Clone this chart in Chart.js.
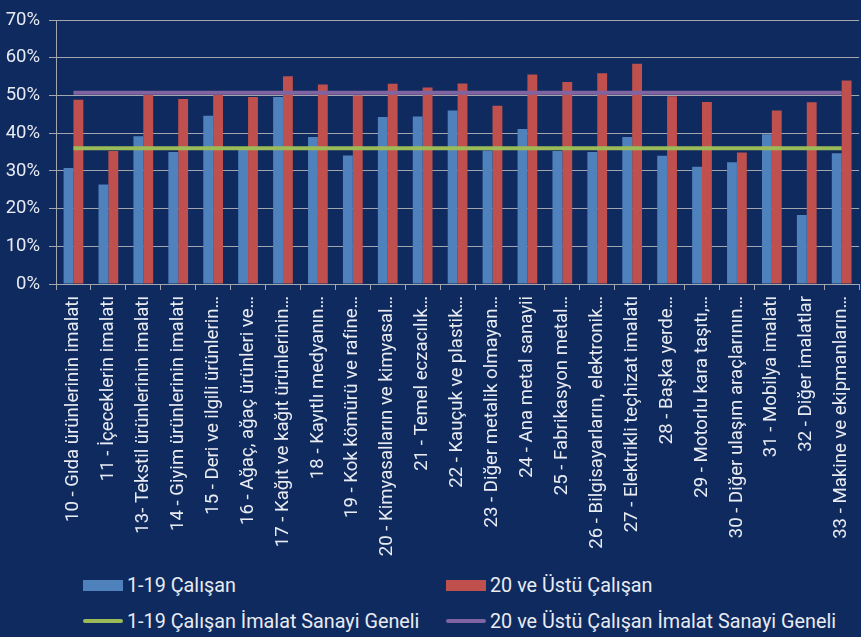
<!DOCTYPE html>
<html lang="tr">
<head>
<meta charset="utf-8">
<title>İmalat Sanayi</title>
<script src="https://cdn.jsdelivr.net/npm/chart.js@4.4.1/dist/chart.umd.min.js"></script>
<style>
  html, body {
    margin: 0;
    padding: 0;
    width: 861px;
    height: 637px;
    overflow: hidden;
    background: #0f2a5f;
    font-family: Roboto, "Noto Sans", sans-serif;
  }
  #wrap {
    position: absolute;
    left: 0;
    top: 0;
    width: 870px;
    height: 565px;
  }
  #legend {
    position: absolute;
    left: 83px;
    top: 567px;
    display: grid;
    grid-template-columns: 363px auto;
    grid-auto-rows: 36px;
    color: #e8ebf2;
    font-size: 19.8px;
  }
  .item {
    display: flex;
    align-items: center;
    white-space: nowrap;
  }
  .swatch {
    width: 40px;
    margin-right: 4px;
  }
</style>
</head>
<body>
<div id="wrap"><canvas id="myChart"></canvas></div>
<div id="legend"></div>

<script>
// sector labels (as cut off in the picture)
const categories = [
  '10 - Gıda ürünlerinin imalatı',
  '11 - İçeceklerin imalatı',
  '13- Tekstil ürünlerinin imalatı',
  '14 - Giyim ürünlerinin imalatı',
  '15 - Deri ve ilgili ürünlerin…',
  '16 - Ağaç, ağaç ürünleri ve…',
  '17 - Kağıt ve kağıt ürünlerinin…',
  '18 - Kayıtlı medyanın…',
  '19 - Kok kömürü ve rafine…',
  '20 - Kimyasalların ve kimyasal…',
  '21 - Temel eczacılık…',
  '22 - Kauçuk ve plastik…',
  '23 - Diğer metalik olmayan…',
  '24 - Ana metal sanayii',
  '25 - Fabrikasyon metal…',
  '26 - Bilgisayarların, elektronik…',
  '27 - Elektrikli teçhizat imalatı',
  '28 - Başka yerde…',
  '29 - Motorlu kara taşıtı,…',
  '30 - Diğer ulaşım araçlarının…',
  '31 - Mobilya imalatı',
  '32 - Diğer imalatlar',
  '33 - Makine ve ekipmanların…'
];

// percentages per sector
const small = [30.8, 26.4, 39.2, 35.0, 44.6, 35.8, 49.6, 39.0, 34.1, 44.3, 44.4, 46.0,
  35.4, 41.1, 35.3, 35.0, 39.0, 34.0, 31.1, 32.3, 39.7, 18.3, 34.7];
const large = [48.9, 35.3, 50.2, 49.1, 50.2, 49.6, 55.1, 52.9, 50.0, 53.1, 52.1, 53.2,
  47.3, 55.6, 53.6, 55.9, 58.4, 49.8, 48.3, 34.9, 46.0, 48.2, 54.0];

// manufacturing industry overall
const smallAvg = 36.0;
const largeAvg = 50.7;

const yTicks = [0, 10, 20, 30, 40, 50, 60, 70];

const names = [
  '1-19 Çalışan',
  '20 ve Üstü Çalışan',
  '1-19 Çalışan İmalat Sanayi Geneli',
  '20 ve Üstü Çalışan İmalat Sanayi Geneli'
];

const gridColor = '#a3a6ad';
const textColor = '#e8ebf2';
const last = categories.length - 1;

const flatLine = (v) => [{ x: categories[0], y: v }, { x: categories[last], y: v }];

const chart = new Chart(document.getElementById('myChart'), {
  type: 'bar',
  data: {
    labels: categories,
    datasets: [
      { label: names[0], data: small, backgroundColor: '#4f81bd', order: 2 },
      { label: names[1], data: large, backgroundColor: '#c0504d', order: 2 },
      {
        type: 'line', label: names[2], data: flatLine(smallAvg),
        borderColor: '#9bbb59', borderWidth: 4, pointRadius: 0, order: 1
      },
      {
        type: 'line', label: names[3], data: flatLine(largeAvg),
        borderColor: '#8064a2', borderWidth: 4, pointRadius: 0, order: 1
      }
    ]
  },
  options: {
    responsive: true,
    maintainAspectRatio: false,
    animation: false,
    layout: { padding: { top: 20, left: 0, right: 0, bottom: 0 } },
    datasets: {
      bar: { categoryPercentage: 0.565, barPercentage: 1 }
    },
    plugins: {
      legend: { display: false },
      tooltip: { enabled: false }
    },
    scales: {
      x: {
        afterFit: (s) => { s.height = 281; },
        grid: { drawOnChartArea: false, drawTicks: true, tickLength: 6, color: gridColor },
        border: { display: true, color: gridColor },
        ticks: {
          color: textColor,
          font: { family: 'Roboto', size: 18.6 },
          minRotation: 90,
          maxRotation: 90,
          autoSkip: false,
          padding: 6
        }
      },
      y: {
        min: 0,
        max: 70,
        afterFit: (s) => { s.width = 56; },
        afterBuildTicks: (s) => { s.ticks = yTicks.map(v => ({ value: v })); },
        grid: { color: gridColor, tickLength: 7 },
        border: { display: true, color: gridColor },
        ticks: {
          color: textColor,
          font: { family: 'Roboto', size: 18.5 },
          padding: 9,
          callback: (v) => v + '%'
        }
      }
    }
  }
});

// legend in a 2x2 grid, built from the chart's datasets
const legendOrder = [0, 1, 2, 3];
const legendEl = document.getElementById('legend');
legendOrder.forEach((i) => {
  const ds = chart.data.datasets[i];
  const item = document.createElement('div');
  item.className = 'item';
  const sw = document.createElement('span');
  sw.className = 'swatch';
  if (ds.type === 'line') {
    sw.style.height = '4px';
    sw.style.borderRadius = '2px';
    sw.style.background = ds.borderColor;
  } else {
    sw.style.height = '11px';
    sw.style.background = ds.backgroundColor;
  }
  const txt = document.createElement('span');
  txt.textContent = ds.label;
  item.appendChild(sw);
  item.appendChild(txt);
  legendEl.appendChild(item);
});
</script>
</body>
</html>
